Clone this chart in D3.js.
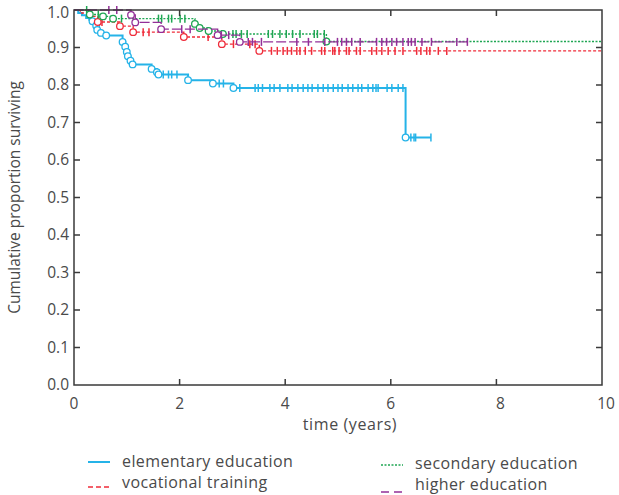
<!DOCTYPE html>
<html>
<head>
<meta charset="utf-8">
<script src="https://cdn.jsdelivr.net/npm/d3@7"></script>
<style>
body { margin: 0; background: #fff; }
text { font-family: "Open Sans", "Noto Sans", sans-serif; fill: #4a4a4a; }
</style>
</head>
<body>
<svg id="chart"></svg>
<script>
// group names
var groups = ["elementary education", "vocational training", "secondary education", "higher education"];

// elementary education: event times, survival after event, censored times
var elemT = [0.08, 0.15, 0.23, 0.29, 0.35, 0.42, 0.44, 0.51, 0.61, 0.92, 0.97, 1.00, 1.02, 1.07, 1.11, 1.47, 1.57, 1.60, 2.16, 2.63, 3.02, 6.28];
var elemS = [0.992, 0.986, 0.979, 0.974, 0.970, 0.958, 0.947, 0.939, 0.932, 0.915, 0.902, 0.888, 0.877, 0.865, 0.855, 0.843, 0.834, 0.828, 0.813, 0.804, 0.792, 0.660];
var elemC = [1.69, 1.79, 1.85, 1.95, 2.75, 2.83, 3.14, 3.43, 3.49, 3.57, 3.71, 3.79, 3.90, 4.05, 4.13, 4.24, 4.34, 4.43, 4.51, 4.62, 4.72, 4.81, 4.91, 5.00, 5.08, 5.19, 5.28, 5.38, 5.45, 5.57, 5.66, 5.72, 5.76, 5.93, 6.02, 6.14, 6.23, 6.38, 6.44, 6.47, 6.76];

// vocational training
var vocT = [0.12, 0.24, 0.45, 0.87, 1.12, 2.08, 2.80, 3.51];
var vocS = [0.992, 0.983, 0.968, 0.957, 0.941, 0.928, 0.909, 0.891];
var vocC = [0.53, 1.31, 1.42, 2.54, 3.02, 3.33, 3.43, 3.74, 3.85, 3.96, 4.04, 4.12, 4.22, 4.28, 4.38, 4.50, 4.69, 4.75, 4.90, 4.94, 5.02, 5.16, 5.21, 5.35, 5.42, 5.64, 5.73, 5.83, 5.95, 6.08, 6.23, 6.49, 6.57, 6.68, 6.74, 6.90, 7.06];

// secondary education
var secT = [0.30, 0.55, 0.74, 2.29, 2.38, 2.55, 2.82, 4.78];
var secS = [0.988, 0.983, 0.977, 0.963, 0.952, 0.944, 0.936, 0.916];
var secC = [0.24, 0.46, 0.90, 1.60, 1.66, 1.79, 1.85, 2.01, 2.10, 3.01, 3.07, 3.17, 3.28, 3.68, 3.76, 3.90, 4.02, 4.14, 4.28, 4.55, 4.61, 4.74];

// higher education
var highT = [1.08, 1.16, 1.65, 2.72, 3.14];
var highS = [0.987, 0.967, 0.949, 0.933, 0.915];
var highC = [0.66, 0.81, 2.04, 2.20, 2.79, 2.93, 3.30, 3.38, 3.55, 4.22, 4.44, 4.75, 4.99, 5.07, 5.16, 5.26, 5.42, 5.73, 5.83, 5.92, 6.02, 6.11, 6.23, 6.33, 6.39, 6.46, 6.59, 6.77, 7.25, 7.45];

// where each curve stops
var endT = [6.76, 10, 10, 7.5];

var xTicks = [0, 2, 4, 6, 8, 10];
var yTicks = [0, 0.1, 0.2, 0.3, 0.4, 0.5, 0.6, 0.7, 0.8, 0.9, 1.0];

var width = 619, height = 495;
var mLeft = 74, mRight = 602, mTop = 10, mBottom = 385;

var svg = d3.select("#chart").attr("width", width).attr("height", height);

var x = d3.scaleLinear().domain([0, 10]).range([mLeft, mRight]);
var y = d3.scaleLinear().domain([0, 1]).range([mBottom, mTop]);

var styles = [
  {color: "#25b3e8", dash: null, w: 2, noMark: 4},
  {color: "#ef2c3a", dash: "3,2", w: 1.4, noMark: 2},
  {color: "#1fa653", dash: "2,1.5", w: 1.4, noMark: 0},
  {color: "#932f98", dash: "10,3", w: 1.4, noMark: 0}
];

var series = [
  {t: elemT, s: elemS, c: elemC},
  {t: vocT, s: vocS, c: vocC},
  {t: secT, s: secS, c: secC},
  {t: highT, s: highS, c: highC}
];

function survAt(d, t) {
  var v = 1;
  for (var i = 0; i < d.t.length; i++) { if (d.t[i] <= t) v = d.s[i]; }
  return v;
}

var line = d3.line()
  .x(function(p) { return x(p[0]); })
  .y(function(p) { return y(p[1]); })
  .curve(d3.curveStepAfter);

series.forEach(function(d, i) {
  var st = styles[i];
  var pts = [[0, 1]];
  d.t.forEach(function(t, j) { pts.push([t, d.s[j]]); });
  pts.push([endT[i], d.s[d.s.length - 1]]);

  var g = svg.append("g");
  g.append("path")
    .attr("d", line(pts))
    .attr("fill", "none")
    .attr("stroke", st.color)
    .attr("stroke-width", st.w)
    .attr("stroke-dasharray", st.dash);

  // censored marks
  g.selectAll("line.cens")
    .data(d.c)
    .enter()
    .append("line")
    .attr("x1", function(t) { return x(t); })
    .attr("x2", function(t) { return x(t); })
    .attr("y1", function(t) { return y(survAt(d, t)) - 4; })
    .attr("y2", function(t) { return y(survAt(d, t)) + 4; })
    .attr("stroke", st.color)
    .attr("stroke-width", 1.5);

  // event circles
  var ev = d.t.map(function(t, j) { return [t, d.s[j]]; }).slice(st.noMark);
  g.selectAll("circle")
    .data(ev)
    .enter()
    .append("circle")
    .attr("cx", function(p) { return x(p[0]); })
    .attr("cy", function(p) { return y(p[1]); })
    .attr("r", 3.3)
    .attr("fill", "#fff")
    .attr("stroke", st.color)
    .attr("stroke-width", 1.3);
});

// frame
svg.append("rect")
  .attr("x", mLeft).attr("y", mTop)
  .attr("width", mRight - mLeft).attr("height", mBottom - mTop)
  .attr("fill", "none").attr("stroke", "#3a3a3a").attr("stroke-width", 1.5);

// inward ticks on all four sides
var tl = 6;
xTicks.slice(1, -1).forEach(function(v) {
  svg.append("line").attr("x1", x(v)).attr("x2", x(v)).attr("y1", mBottom).attr("y2", mBottom - tl)
    .attr("stroke", "#3a3a3a").attr("stroke-width", 1.5);
  svg.append("line").attr("x1", x(v)).attr("x2", x(v)).attr("y1", mTop).attr("y2", mTop + tl)
    .attr("stroke", "#3a3a3a").attr("stroke-width", 1.5);
});
yTicks.slice(1, -1).forEach(function(v) {
  svg.append("line").attr("x1", mLeft).attr("x2", mLeft + tl).attr("y1", y(v)).attr("y2", y(v))
    .attr("stroke", "#3a3a3a").attr("stroke-width", 1.5);
  svg.append("line").attr("x1", mRight).attr("x2", mRight - tl).attr("y1", y(v)).attr("y2", y(v))
    .attr("stroke", "#3a3a3a").attr("stroke-width", 1.5);
});

// tick labels
svg.selectAll("text.xl")
  .data(xTicks)
  .enter()
  .append("text")
  .attr("x", function(v) { return x(v) + (v >= 8 ? 4 : 0); })
  .attr("y", 409)
  .attr("text-anchor", "middle")
  .attr("font-size", "15.5px")
  .text(function(v) { return v; });

svg.selectAll("text.yl")
  .data(yTicks)
  .enter()
  .append("text")
  .attr("x", 69)
  .attr("y", function(v) { return Math.max(y(v) + 5, 18); })
  .attr("text-anchor", "end")
  .attr("font-size", "15.5px")
  .text(function(v) { return v.toFixed(1); });

svg.append("text")
  .attr("x", 350).attr("y", 430)
  .attr("text-anchor", "middle")
  .attr("font-size", "16px")
  .attr("letter-spacing", "0.6px")
  .text("time (years)");

svg.append("text")
  .attr("transform", "translate(20," + ((mTop + mBottom) / 2) + ") rotate(-90)")
  .attr("text-anchor", "middle")
  .attr("font-size", "15.5px")
  .text("Cumulative proportion surviving");

// legend
var legPos = [[88, 462], [88, 483], [381, 464], [381, 485]];
var legLineDy = [0, 4, 1, 7];
var legDash = [null, "5,3", "2,1.5", "8,5"];
groups.forEach(function(name, i) {
  var p = legPos[i];
  svg.append("line")
    .attr("x1", p[0]).attr("x2", p[0] + 22)
    .attr("y1", p[1] + legLineDy[i]).attr("y2", p[1] + legLineDy[i])
    .attr("stroke", styles[i].color)
    .attr("stroke-width", i == 0 ? 2 : 1.5)
    .attr("stroke-dasharray", legDash[i]);
  svg.append("text")
    .attr("x", p[0] + 34).attr("y", p[1] + 5)
    .attr("font-size", "16px")
    .attr("letter-spacing", "0.4px")
    .text(name);
});
</script>
</body>
</html>
